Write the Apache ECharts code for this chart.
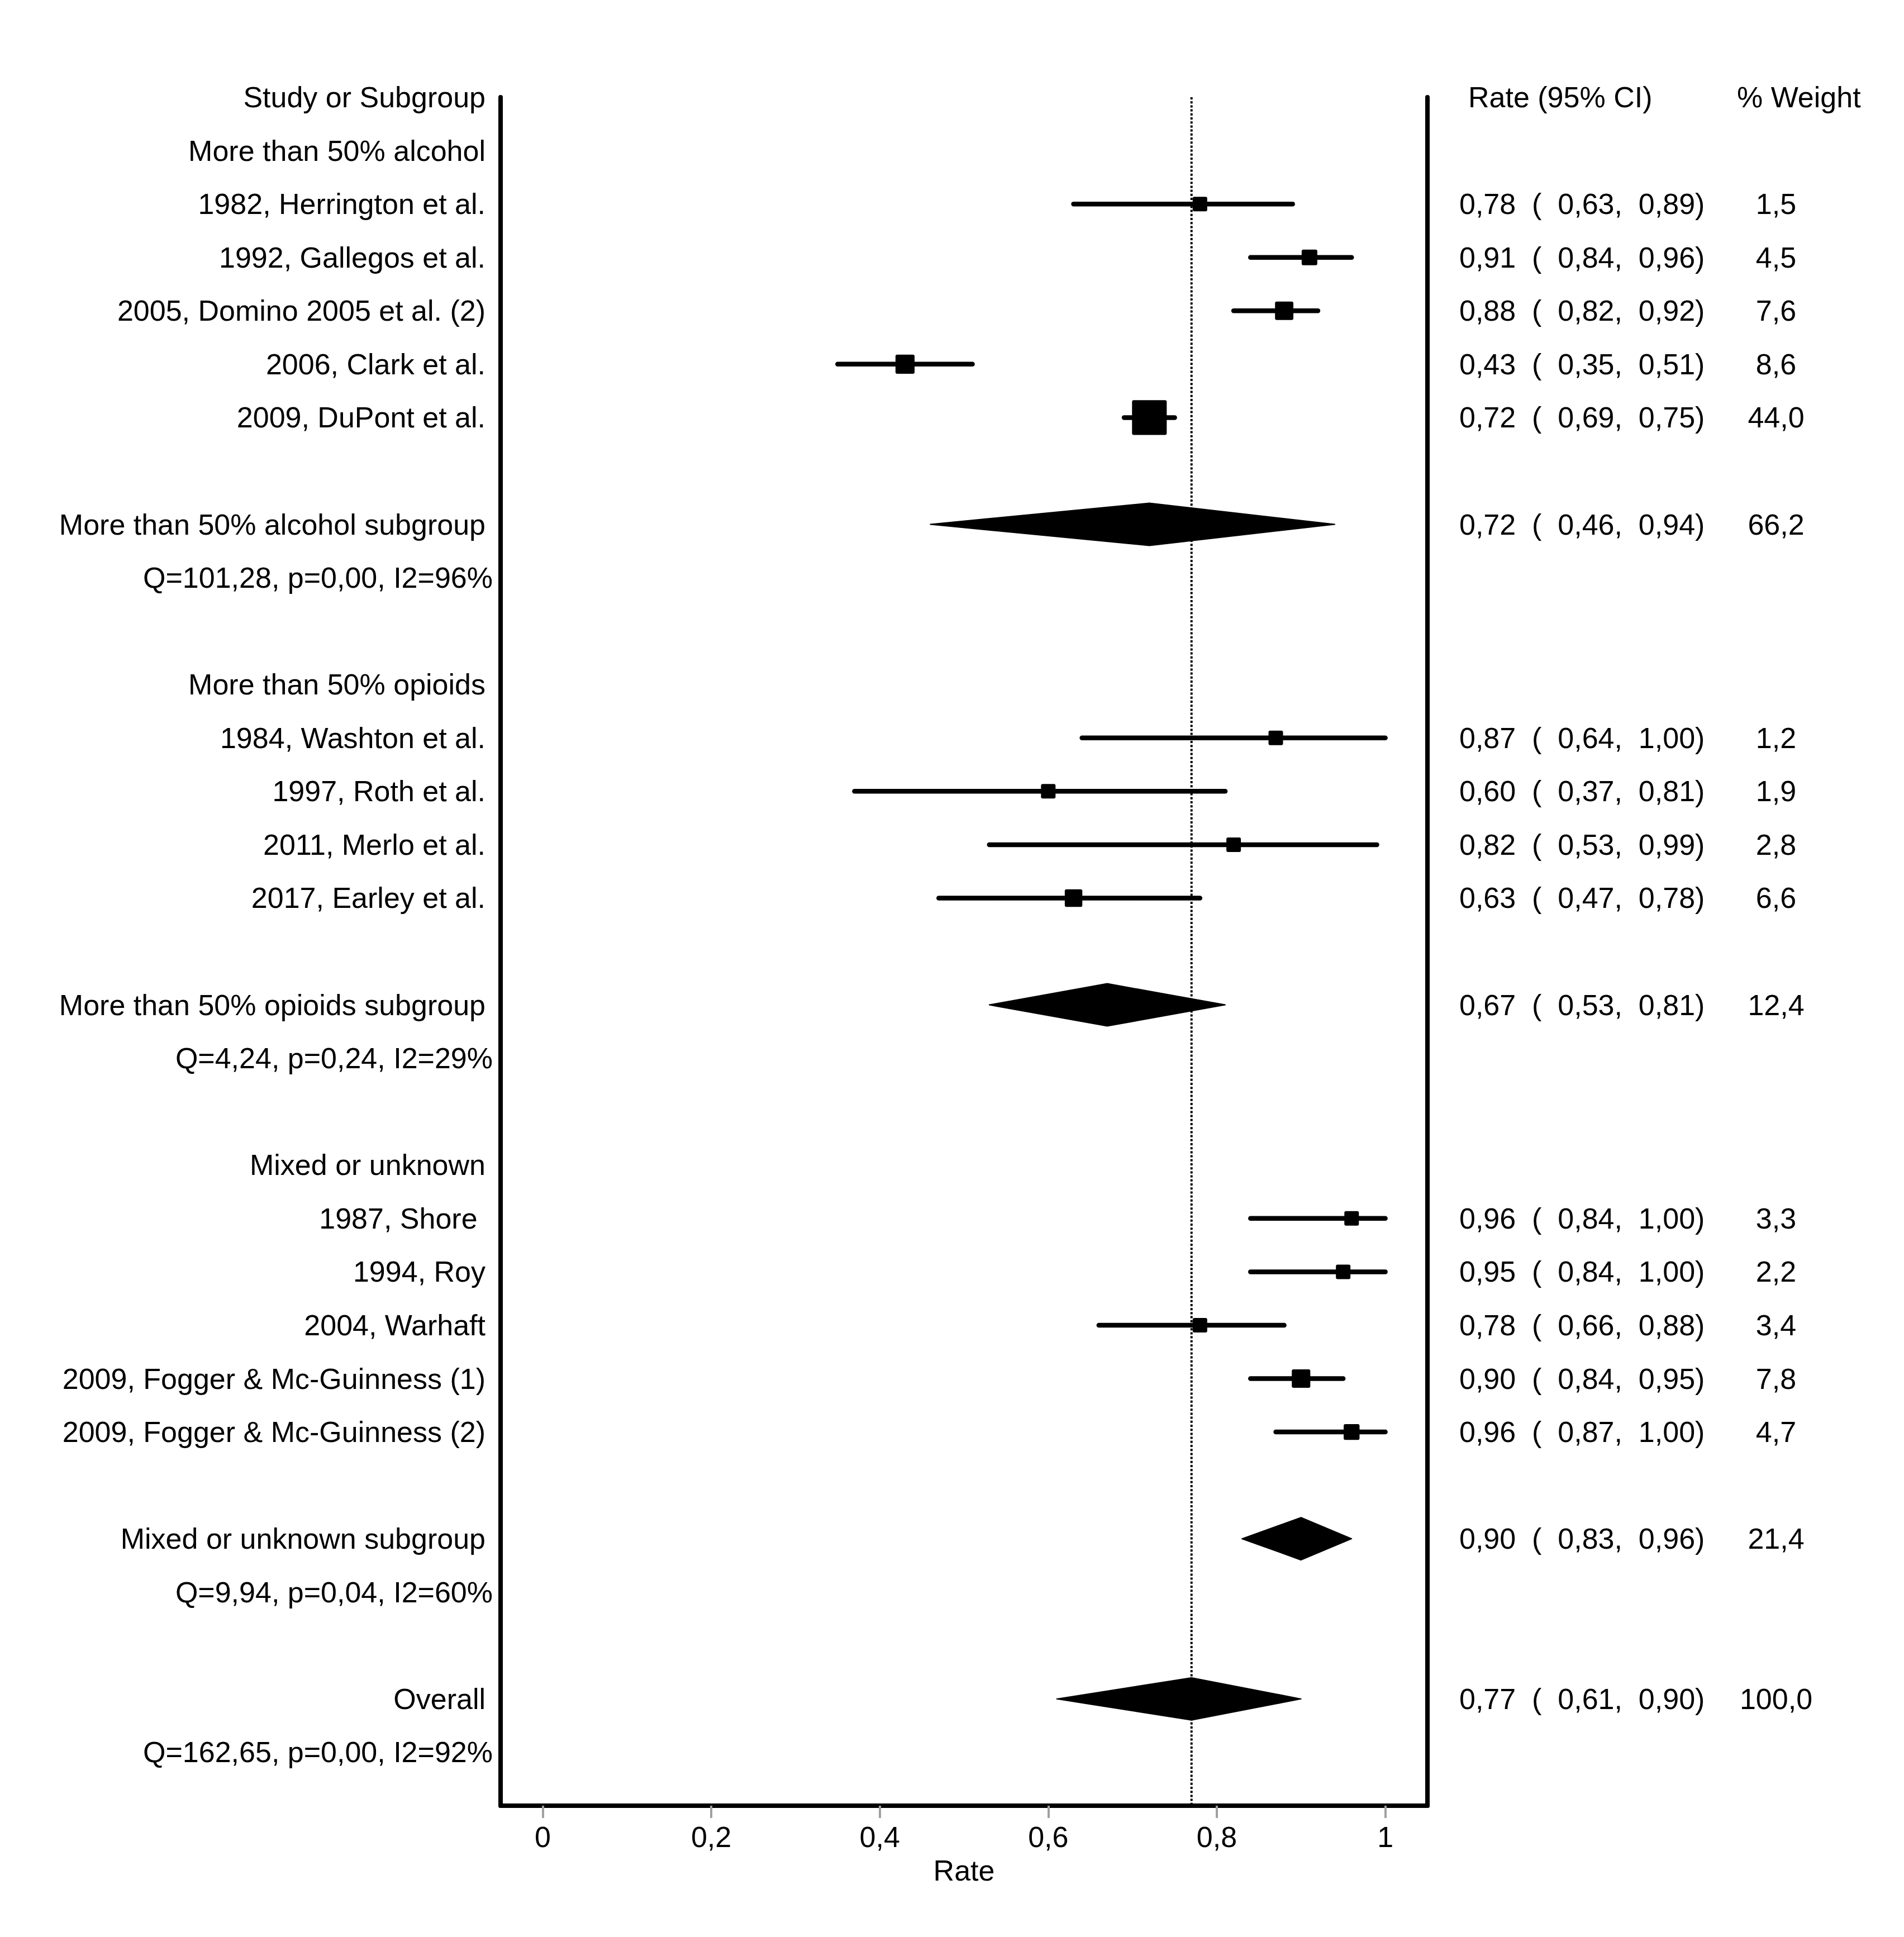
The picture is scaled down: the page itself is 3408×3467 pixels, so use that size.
<!DOCTYPE html>
<html lang="en">
<head>
    <meta charset="UTF-8">
    <title>Forest plot</title>
    <script src="https://cdn.jsdelivr.net/npm/echarts@6/dist/echarts.min.js"></script>
    <style>
        body {
            margin: 0;
            padding: 0;
            background-color: #fff;
        }
        #main {
            width: 3408px;
            height: 3467px;
        }
    </style>
</head>
<body>
<div id="main"></div>

<script>
    // row labels, top to bottom (empty string = blank row)
    const rowLabels = [
        'Study or Subgroup',
        'More than 50% alcohol',
        '1982, Herrington et al.',
        '1992, Gallegos et al.',
        '2005, Domino 2005 et al. (2)',
        '2006, Clark et al.',
        '2009, DuPont et al.',
        '',
        'More than 50% alcohol subgroup',
        'Q=101,28, p=0,00, I2=96%',
        '',
        'More than 50% opioids',
        '1984, Washton et al.',
        '1997, Roth et al.',
        '2011, Merlo et al.',
        '2017, Earley et al.',
        '',
        'More than 50% opioids subgroup',
        'Q=4,24, p=0,24, I2=29%',
        '',
        'Mixed or unknown',
        '1987, Shore ',
        '1994, Roy',
        '2004, Warhaft',
        '2009, Fogger & Mc-Guinness (1)',
        '2009, Fogger & Mc-Guinness (2)',
        '',
        'Mixed or unknown subgroup',
        'Q=9,94, p=0,04, I2=60%',
        '',
        'Overall',
        'Q=162,65, p=0,00, I2=92%'
    ];

    // individual studies
    const studyRows   = [2, 3, 4, 5, 6, 12, 13, 14, 15, 21, 22, 23, 24, 25];
    const studyRate   = [0.78, 0.91, 0.88, 0.43, 0.72, 0.87, 0.60, 0.82, 0.63, 0.96, 0.95, 0.78, 0.90, 0.96];
    const studyLower  = [0.63, 0.84, 0.82, 0.35, 0.69, 0.64, 0.37, 0.53, 0.47, 0.84, 0.84, 0.66, 0.84, 0.87];
    const studyUpper  = [0.89, 0.96, 0.92, 0.51, 0.75, 1.00, 0.81, 0.99, 0.78, 1.00, 1.00, 0.88, 0.95, 1.00];
    const studyWeight = [1.5, 4.5, 7.6, 8.6, 44.0, 1.2, 1.9, 2.8, 6.6, 3.3, 2.2, 3.4, 7.8, 4.7];

    // subgroup and overall estimates
    const summaryRows   = [8, 17, 27, 30];
    const summaryRate   = [0.72, 0.67, 0.90, 0.77];
    const summaryLower  = [0.46, 0.53, 0.83, 0.61];
    const summaryUpper  = [0.94, 0.81, 0.96, 0.90];
    const summaryWeight = [66.2, 12.4, 21.4, 100.0];

    const tickValues = [0, 0.2, 0.4, 0.6, 0.8, 1];
    const xMin = -0.05, xMax = 1.05;
    const nRows = rowLabels.length;
    const overallRate = summaryRate[summaryRate.length - 1];

    const FONT = '"Liberation Sans", Arial, sans-serif';
    const FS = 52;

    function comma(v, d) {
        return v.toFixed(d).replace('.', ',');
    }

    // box size grows with study weight, with a minimum size
    function boxSize(w) {
        return Math.max(26, 12 + 7.55 * Math.sqrt(w));
    }

    // right hand columns
    const rightRows = [];
    studyRows.forEach((r, i) => rightRows.push({
        row: r,
        ci: comma(studyRate[i], 2) + '  (  ' + comma(studyLower[i], 2) + ',  ' + comma(studyUpper[i], 2) + ')',
        w: comma(studyWeight[i], 1)
    }));
    summaryRows.forEach((r, i) => rightRows.push({
        row: r,
        ci: comma(summaryRate[i], 2) + '  (  ' + comma(summaryLower[i], 2) + ',  ' + comma(summaryUpper[i], 2) + ')',
        w: comma(summaryWeight[i], 1)
    }));

    function textEl(x, y, text, align) {
        return {
            type: 'text',
            x: x,
            y: y,
            style: {
                text: text,
                fill: '#000',
                fontSize: FS,
                fontFamily: FONT,
                align: align,
                verticalAlign: 'middle'
            }
        };
    }

    const chart = echarts.init(document.getElementById('main'), null, {renderer: 'svg'});

    const option = {
        animation: false,
        backgroundColor: '#fff',
        grid: {left: 896, right: 853, top: 174, bottom: 235},
        xAxis: {
            type: 'value',
            min: xMin,
            max: xMax,
            name: 'Rate',
            nameLocation: 'middle',
            nameGap: 90,
            nameTextStyle: {fontSize: FS, fontFamily: FONT, color: '#000'},
            axisLine: {show: true, onZero: false, lineStyle: {color: '#000', width: 8, cap: 'round'}},
            axisTick: {show: true, customValues: tickValues, length: 22, lineStyle: {color: '#a0a0a0', width: 4}},
            axisLabel: {
                customValues: tickValues,
                margin: 30,
                fontSize: FS,
                fontFamily: FONT,
                color: '#000',
                formatter: v => String(v).replace('.', ',')
            },
            splitLine: {show: false}
        },
        yAxis: [0, 1].map(i => ({
            type: 'value',
            min: 0,
            max: nRows,
            inverse: true,
            position: i === 0 ? 'left' : 'right',
            axisLine: {show: true, onZero: false, lineStyle: {color: '#000', width: 8, cap: 'round'}},
            axisTick: {show: false},
            axisLabel: {show: false},
            splitLine: {show: false}
        })),
        series: [
            {
                // dotted reference line at the overall estimate
                type: 'line',
                silent: true,
                symbol: 'none',
                z: 1,
                data: [[overallRate, 0], [overallRate, nRows]],
                lineStyle: {color: '#000', width: 4, type: [4, 3.2]}
            },
            {
                // study CI lines and weight squares
                type: 'custom',
                z: 3,
                data: studyRows.map((r, i) => [studyRate[i], r, studyLower[i], studyUpper[i], studyWeight[i]]),
                encode: {x: 0, y: 1},
                renderItem: (params, api) => {
                    const row = api.value(1);
                    const c = api.coord([api.value(0), row]);
                    const lo = api.coord([api.value(2), row]);
                    const hi = api.coord([api.value(3), row]);
                    const s = boxSize(api.value(4));
                    return {
                        type: 'group',
                        children: [
                            {
                                type: 'line',
                                shape: {x1: lo[0], y1: c[1], x2: hi[0], y2: c[1]},
                                style: {stroke: '#000', lineWidth: 8.5, lineCap: 'round'}
                            },
                            {
                                type: 'rect',
                                shape: {x: c[0] - s / 2, y: c[1] - s / 2, width: s, height: s, r: 3},
                                style: {fill: '#000'}
                            }
                        ]
                    };
                }
            },
            {
                // subgroup / overall diamonds
                type: 'custom',
                z: 3,
                data: summaryRows.map((r, i) => [summaryRate[i], r, summaryLower[i], summaryUpper[i]]),
                encode: {x: 0, y: 1},
                renderItem: (params, api) => {
                    const row = api.value(1);
                    const c = api.coord([api.value(0), row]);
                    const lo = api.coord([api.value(2), row]);
                    const hi = api.coord([api.value(3), row]);
                    const h = 38;
                    return {
                        type: 'polygon',
                        shape: {points: [[lo[0], c[1]], [c[0], c[1] - h], [hi[0], c[1]], [c[0], c[1] + h]]},
                        style: {fill: '#000', stroke: '#000', lineWidth: 2, lineJoin: 'round'}
                    };
                }
            },
            {
                // left column labels
                type: 'custom',
                z: 4,
                silent: true,
                clip: false,
                data: rowLabels.map((t, i) => [xMin, i]),
                encode: {x: 0, y: 1},
                renderItem: (params, api) => {
                    const t = rowLabels[params.dataIndex];
                    if (!t) return null;
                    const p = api.coord([xMin, api.value(1)]);
                    const off = t.indexOf('Q=') === 0 ? 14 : 27;
                    return textEl(p[0] - off, p[1], t, 'right');
                }
            },
            {
                // right columns: rate with CI and weight
                type: 'custom',
                z: 4,
                silent: true,
                clip: false,
                data: [[xMax, 0]].concat(rightRows.map(d => [xMax, d.row])),
                encode: {x: 0, y: 1},
                renderItem: (params, api) => {
                    const p = api.coord([xMax, api.value(1)]);
                    if (params.dataIndex === 0) {
                        return {
                            type: 'group',
                            children: [
                                textEl(p[0] + 73, p[1], 'Rate (95% CI)', 'left'),
                                textEl(p[0] + 554, p[1], '% Weight', 'left')
                            ]
                        };
                    }
                    const d = rightRows[params.dataIndex - 1];
                    return {
                        type: 'group',
                        children: [
                            textEl(p[0] + 57, p[1], d.ci, 'left'),
                            textEl(p[0] + 624, p[1], d.w, 'center')
                        ]
                    };
                }
            }
        ]
    };

    chart.setOption(option);
</script>

</body>
</html>
